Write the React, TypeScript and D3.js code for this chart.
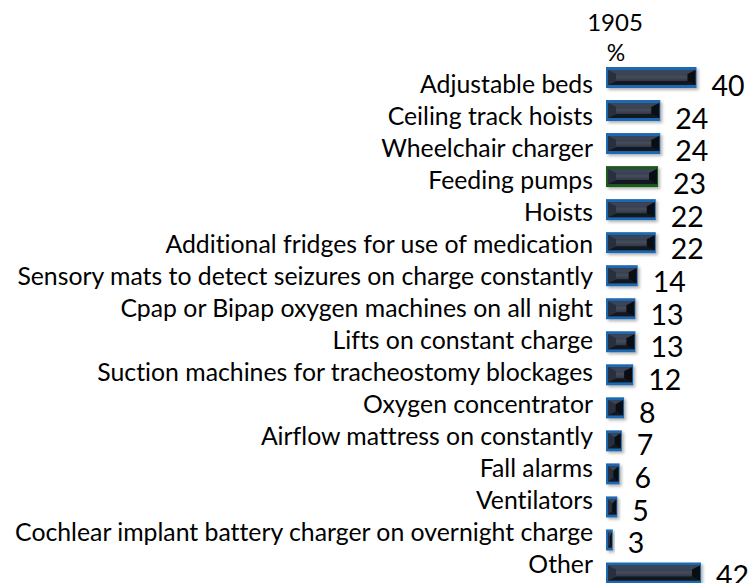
import React from "react";
import * as d3 from "d3";

const title = "1905";
const unitLabel = "%";
const categories = [
  "Adjustable beds",
  "Ceiling track hoists",
  "Wheelchair charger",
  "Feeding pumps",
  "Hoists",
  "Additional fridges for use of medication",
  "Sensory mats to detect seizures on charge constantly",
  "Cpap or Bipap oxygen machines on all night",
  "Lifts on constant charge",
  "Suction machines for tracheostomy blockages",
  "Oxygen concentrator",
  "Airflow mattress on constantly",
  "Fall alarms",
  "Ventilators",
  "Cochlear implant battery charger on overnight charge",
  "Other",
];
const values = [40, 24, 24, 23, 22, 22, 14, 13, 13, 12, 8, 7, 6, 5, 3, 42];
const highlighted = ["Feeding pumps"];

const W = 750;
const H = 583;
const FONT = "Lato, 'Open Sans', sans-serif";

export default function App() {
  const x = d3.scaleLinear().domain([0, 42]).range([606, 701]);
  const yBar = d3.scalePoint<string>().domain(categories).range([77.5, 573]);
  const yCat = d3.scalePoint<string>().domain(categories).range([83, 563.5]);
  const yVal = d3.scalePoint<string>().domain(categories).range([85, 575]);
  const barH = 21;
  const textStyle = { fontVariantLigatures: "none" as const };

  return (
    <div style={{ position: "absolute", left: 0, top: 0 }}>
      <svg width={W} height={H} style={{ display: "block", background: "#fff" }}>
        <defs>
          <linearGradient id="mid" x1="0" y1="0" x2="0" y2="1">
            <stop offset="0" stopColor="#232935" />
            <stop offset="0.45" stopColor="#454d5c" />
            <stop offset="1" stopColor="#1f242e" />
          </linearGradient>
          <filter id="sh" x="-20%" y="-40%" width="150%" height="200%">
            <feDropShadow dx="2" dy="2" stdDeviation="1.6" floodColor="#000" floodOpacity="0.3" />
          </filter>
        </defs>
        <text x={615} y={21} textAnchor="middle" dominantBaseline="central" fontFamily={FONT} fontSize={24} fill="#000" style={textStyle}>
          {title}
        </text>
        <text x={616} y={52} textAnchor="middle" dominantBaseline="central" fontFamily={FONT} fontSize={23} fill="#000" style={textStyle}>
          {unitLabel}
        </text>
        {categories.map((c, i) => {
          const v = values[i];
          const x0 = x(0);
          const x1 = x(v);
          const cy = yBar(c) as number;
          const y0 = cy - barH / 2;
          const y1 = cy + barH / 2;
          const border = highlighted.includes(c) ? "#1f5a1c" : "#1f67b1";
          const ix0 = x0 + 2;
          const ix1 = x1 - 1;
          const iy0 = y0 + 3;
          const iy1 = y1 - 3;
          const iw = ix1 - ix0;
          const b = Math.min(8, iw / 2);
          const bv = 4;
          const pts = (arr: number[][]) => arr.map((p) => p.join(",")).join(" ");
          return (
            <g key={c}>
              <g filter="url(#sh)">
                <rect x={x0} y={y0} width={x1 - x0} height={y1 - y0} fill={border} />
              </g>
              <rect x={ix0} y={iy0} width={iw} height={iy1 - iy0} fill="url(#mid)" />
              <polygon points={pts([[ix0, iy0], [ix1, iy0], [ix1 - b, iy0 + bv], [ix0 + b, iy0 + bv]])} fill="#3c4557" />
              <polygon points={pts([[ix0, iy1], [ix1, iy1], [ix1 - b, iy1 - bv], [ix0 + b, iy1 - bv]])} fill="#131820" />
              <polygon points={pts([[ix0, iy0], [ix0 + b, iy0 + bv], [ix0 + b, iy1 - bv], [ix0, iy1]])} fill="#283040" />
              <polygon points={pts([[ix1, iy0], [ix1 - b, iy0 + bv], [ix1 - b, iy1 - bv], [ix1, iy1]])} fill="#0a0d12" />
              <text
                x={593}
                y={yCat(c) as number}
                textAnchor="end"
                dominantBaseline="central"
                fontFamily={FONT}
                fontSize={24.8}
                fill="#000"
                style={textStyle}
              >
                {c}
              </text>
              <text
                x={x1 + 15}
                y={yVal(c) as number}
                dominantBaseline="central"
                fontFamily={FONT}
                fontSize={28.5}
                fill="#000"
                style={textStyle}
              >
                {v}
              </text>
            </g>
          );
        })}
      </svg>
    </div>
  );
}
